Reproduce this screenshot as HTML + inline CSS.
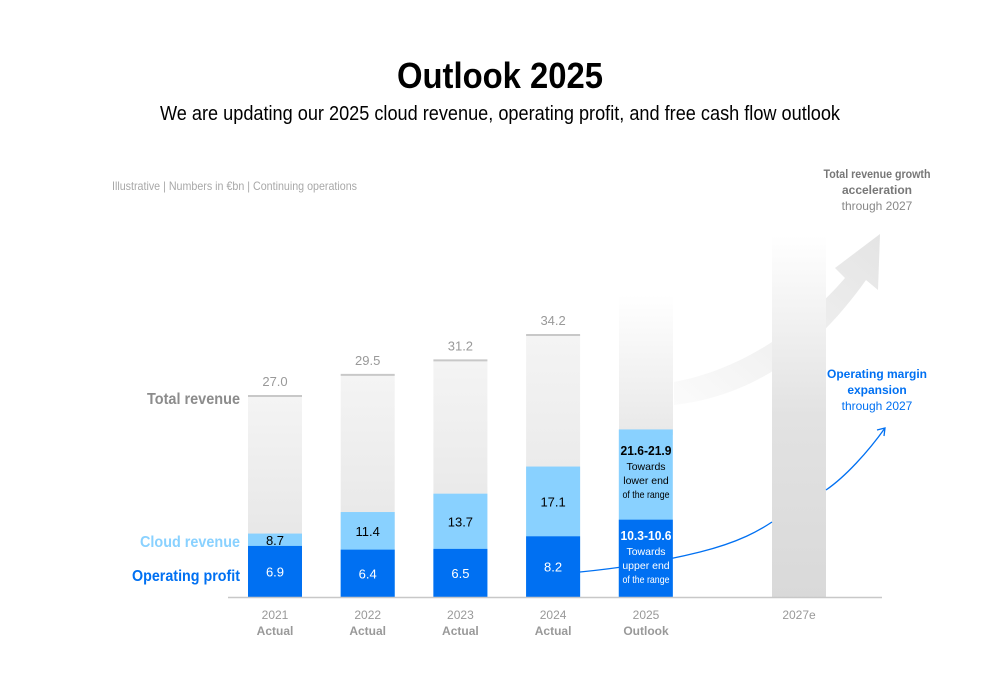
<!DOCTYPE html>
<html><head><meta charset="utf-8"><style>
body{margin:0;background:#fff;font-family:"Liberation Sans",sans-serif;}
#wrap{position:relative;width:1000px;height:685px;overflow:hidden}
</style></head><body>
<div id="wrap">
<svg id="chart" width="1000" height="685">
<defs>
<linearGradient id="gTot" x1="0" y1="0" x2="0" y2="1"><stop offset="0" stop-color="#f4f4f4"/><stop offset="1" stop-color="#e2e2e2"/></linearGradient>
<linearGradient id="gFade" x1="0" y1="0" x2="0" y2="1"><stop offset="0" stop-color="#fff"/><stop offset="0.5" stop-color="#e2e2e2"/><stop offset="1" stop-color="#d9d9d9"/></linearGradient>
<linearGradient id="gFade2" x1="0" y1="0" x2="0" y2="1"><stop offset="0" stop-color="#fff"/><stop offset="1" stop-color="#e8e8e8"/></linearGradient>
<linearGradient id="gArr" x1="0" y1="1" x2="1" y2="0"><stop offset="0" stop-color="#fbfbfb"/><stop offset="1" stop-color="#e4e4e4"/></linearGradient>
</defs>
<text x="500" y="88" text-anchor="middle" font-size="36" font-weight="bold" fill="#000" textLength="206" lengthAdjust="spacingAndGlyphs">Outlook 2025</text>
<text x="500" y="120" text-anchor="middle" font-size="20" fill="#000" textLength="680" lengthAdjust="spacingAndGlyphs">We are updating our 2025 cloud revenue, operating profit, and free cash flow outlook</text>
<text x="112" y="190" font-size="12" fill="#a8a8a8" textLength="245" lengthAdjust="spacingAndGlyphs">Illustrative | Numbers in €bn | Continuing operations</text>
<path d="M674 382 C740 370 800 330 845 278 L835 268 L880 234 L878 290 L866 280 C820 345 760 395 674 405 Z" fill="url(#gArr)"/>
<rect x="772" y="235" width="54" height="362" fill="url(#gFade)"/>
<rect x="619" y="295" width="54" height="140" fill="url(#gFade2)"/>
<g id="bars"></g>
<line x1="228" y1="597.5" x2="882" y2="597.5" stroke="#c8c8c8" stroke-width="1.5"/>
<path d="M580 572 C620 568 660 562 700 552 C740 542 760 530 772 522 M826 490 C845 477 868 452 885 428" fill="none" stroke="#0070f2" stroke-width="1.3"/>
<path d="M877 430 L885 428 L884 436" fill="none" stroke="#0070f2" stroke-width="1.3"/>
<text x="240" y="404" text-anchor="end" font-size="16" fill="#8c8c8c" font-weight="bold" textLength="93" lengthAdjust="spacingAndGlyphs">Total revenue</text>
<text x="240" y="547" text-anchor="end" font-size="16" fill="#89d1ff" font-weight="bold" textLength="100" lengthAdjust="spacingAndGlyphs">Cloud revenue</text>
<text x="240" y="581" text-anchor="end" font-size="16" fill="#0070f2" font-weight="bold" textLength="108" lengthAdjust="spacingAndGlyphs">Operating profit</text>
<g font-size="12" text-anchor="middle">
<text x="877" y="178" fill="#777" font-weight="bold" textLength="107" lengthAdjust="spacingAndGlyphs">Total revenue growth</text>
<text x="877" y="194" fill="#777" font-weight="bold">acceleration</text>
<text x="877" y="210" fill="#888">through 2027</text></g>
<g font-size="12" text-anchor="middle">
<text x="877" y="378" fill="#0070f2" font-weight="bold">Operating margin</text>
<text x="877" y="394" fill="#0070f2" font-weight="bold">expansion</text>
<text x="877" y="410" fill="#0070f2">through 2027</text></g>
<g font-size="10.5" text-anchor="middle">
<text x="646" y="455" font-size="13" font-weight="bold" fill="#000" textLength="51" lengthAdjust="spacingAndGlyphs">21.6-21.9</text>
<text x="646" y="470" fill="#000">Towards</text><text x="646" y="484" fill="#000">lower end</text><text x="646" y="498" fill="#000" textLength="47" lengthAdjust="spacingAndGlyphs">of the range</text>
<text x="646" y="540" font-size="13" font-weight="bold" fill="#fff" textLength="51" lengthAdjust="spacingAndGlyphs">10.3-10.6</text>
<text x="646" y="555" fill="#fff">Towards</text><text x="646" y="569" fill="#fff">upper end</text><text x="646" y="583" fill="#fff" textLength="47" lengthAdjust="spacingAndGlyphs">of the range</text></g>
<text x="646" y="619" text-anchor="middle" font-size="12" fill="#999">2025</text>
<text x="646" y="635" text-anchor="middle" font-size="12" font-weight="bold" fill="#999">Outlook</text>
<text x="799" y="619" text-anchor="middle" font-size="12" fill="#999">2027e</text>
</svg>
</div>
<script>
const years=['2021','2022','2023','2024'];
const totalRev=[27.0,29.5,31.2,34.2];
const cloudRev=[8.7,11.4,13.7,17.1];
const opProfit=[6.9,6.4,6.5,8.2];
const cloud2025=21.75, op2025=10.45;
const base=597;
const yTot=v=>624.7-8.47*v;
const yCloud=v=>603-7.98*v;
const yOp=v=>base-7.4*v;
const xBar=i=>248+i*92.7;
const W=54;
const NS='http://www.w3.org/2000/svg';
const g=document.getElementById('bars');
function mk(tag,attrs,txt){const e=document.createElementNS(NS,tag);for(const k in attrs)e.setAttribute(k,attrs[k]);if(txt!==undefined)e.textContent=txt;g.appendChild(e);return e;}
years.forEach((yr,i)=>{
  const x=xBar(i),t=yTot(totalRev[i]),c=yCloud(cloudRev[i]),o=yOp(opProfit[i]);
  let e=mk('rect',{x:x,y:t,width:W,height:base-t,fill:'url(#gTot)'});
  
  
  e=mk('line',{x1:x,x2:x+W,y1:t,y2:t,stroke:'#c8c8c8','stroke-width':2});
  
  
  e=mk('rect',{x:x,y:c,width:W,height:base-c,fill:'#89d1ff'});
  
  
  e=mk('rect',{x:x,y:o,width:W,height:base-o,fill:'#0070f2'});
  
  
  e=mk('text',{x:x+W/2,y:t-10,'text-anchor':'middle','font-size':13,fill:'#999'},totalRev[i].toFixed(1));
  
  
  e=mk('text',{x:x+W/2,y:(c+o)/2+5,'text-anchor':'middle','font-size':13,fill:'#000'},cloudRev[i].toFixed(1));
  
  
  e=mk('text',{x:x+W/2,y:(o+base)/2+5,'text-anchor':'middle','font-size':13,fill:'#fff'},opProfit[i].toFixed(1));
  
  
  e=mk('text',{x:x+W/2,y:619,'text-anchor':'middle','font-size':12,fill:'#999'},yr);
  
  
  e=mk('text',{x:x+W/2,y:635,'text-anchor':'middle','font-size':12,'font-weight':'bold',fill:'#999'},'Actual');
  
  
});
const x5=xBar(4),c5=yCloud(cloud2025),o5=yOp(op2025);
let e=mk('rect',{x:x5,y:c5,width:W,height:base-c5,fill:'#89d1ff'});


e=mk('rect',{x:x5,y:o5,width:W,height:base-o5,fill:'#0070f2'});


</script>
</body></html>
